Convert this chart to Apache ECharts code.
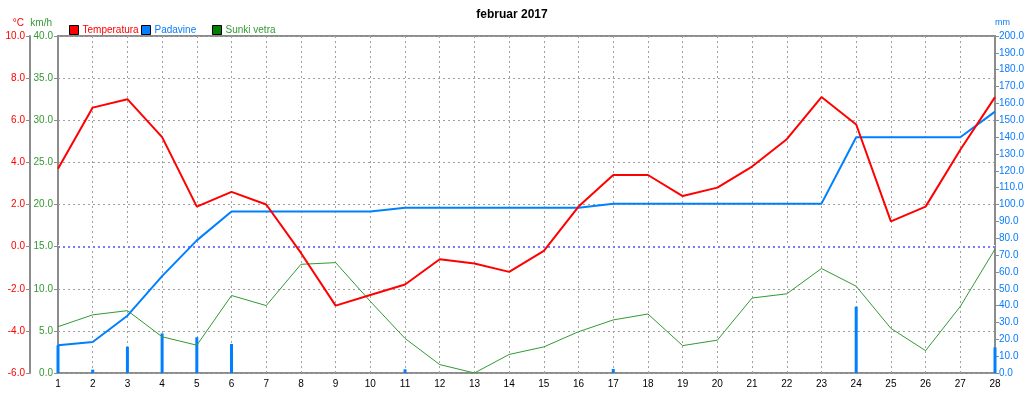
<!DOCTYPE html>
<html>
<head>
<meta charset="utf-8">
<script src="https://cdn.jsdelivr.net/npm/echarts@6/dist/echarts.min.js"></script>
<style>
html,body{margin:0;padding:0;background:#fff;}
#c{width:1024px;height:402px;}
</style>
</head>
<body>
<div id="c"></div>
<script>
var days = ['1','2','3','4','5','6','7','8','9','10','11','12','13','14','15','16','17','18','19','20','21','22','23','24','25','26','27','28'];
var temperatura = [3.7, 6.6, 7.0, 5.2, 1.9, 2.6, 2.0, -0.3, -2.8, -2.3, -1.8, -0.6, -0.8, -1.2, -0.2, 1.9, 3.4, 3.4, 2.4, 2.8, 3.8, 5.1, 7.1, 5.8, 1.2, 1.9, 4.6, 7.1];
var sunkiVetra = [5.5, 6.9, 7.4, 4.3, 3.3, 9.2, 8.0, 12.9, 13.1, 8.5, 4.1, 1.0, 0.0, 2.2, 3.1, 4.9, 6.3, 7.0, 3.25, 3.9, 8.9, 9.4, 12.4, 10.3, 5.3, 2.65, 7.9, 14.7];
var padavineDnevne = [16.4, 2.0, 15.6, 23.5, 21.2, 17.2, 0, 0, 0, 0, 2.2, 0, 0, 0, 0, 0, 2.4, 0, 0, 0, 0, 0, 0, 39.4, 0, 0, 0, 15.2];
var padavineSkupaj = [16.4, 18.4, 34.0, 57.5, 78.7, 95.9, 95.9, 95.9, 95.9, 95.9, 98.1, 98.1, 98.1, 98.1, 98.1, 98.1, 100.5, 100.5, 100.5, 100.5, 100.5, 100.5, 100.5, 139.9, 139.9, 139.9, 139.9, 155.1];
var titleText = 'februar 2017';

var FONT = 'Liberation Sans';
var RED = '#ff0000', BLUE = '#0a7cff', GREEN = '#339933', GRAY = '#8c8c8c';
function f1(v){ return v.toFixed(1); }

var chart = echarts.init(document.getElementById('c'), null, {renderer:'canvas'});
function legendAt(x, name, fill, txt){
  return {
    left: x, top: 20, itemWidth: 9, itemHeight: 9, icon: 'rect',
    selectedMode: false,
    textStyle: {fontFamily: FONT, fontSize: 10, color: txt, padding: [0,0,0,-1]},
    data: [{name: name, itemStyle: {color: fill, borderColor: '#000', borderWidth: 1}}]
  };
}
chart.setOption({
  animation: false,
  backgroundColor: '#fff',
  title: {text: titleText, left: 'center', top: 4,
    textStyle: {fontFamily: FONT, fontSize: 12, fontWeight: 'bold', color: '#000'}},
  legend: [
    legendAt(64, 'Temperatura', '#ff0000', RED),
    legendAt(136, 'Padavine', '#0080ff', BLUE),
    legendAt(207, 'Sunki vetra', '#008000', GREEN)
  ],
  grid: {left: 58, right: 29, top: 36, bottom: 29, show: true, borderColor: GRAY, borderWidth: 2,
    backgroundColor: 'transparent', containLabel: false, outerBoundsMode: 'none'},
  xAxis: {
    type: 'category', data: days, boundaryGap: false,
    axisLine: {lineStyle: {color: GRAY, width: 2}},
    axisTick: {show: false},
    axisLabel: {fontFamily: FONT, fontSize: 10, color: '#000', margin: 6, interval: 0},
    splitLine: {show: true, lineStyle: {color: '#a0a0a0', type: [2,3], width: 1}}
  },
  yAxis: [
    {type: 'value', min: -6, max: 10, interval: 2, position: 'left', offset: 28,
     name: '°C', nameLocation: 'end', nameGap: 8,
     nameTextStyle: {fontFamily: FONT, fontSize: 10, color: RED, align: 'right', padding: [0, 6, 0, 0]},
     axisLine: {show: true, lineStyle: {color: GRAY, width: 2}},
     axisTick: {show: true, length: 4, lineStyle: {color: GRAY}},
     axisLabel: {fontFamily: FONT, fontSize: 10, color: RED, margin: 5, formatter: f1},
     splitLine: {show: false}},
    {type: 'value', min: 0, max: 40, interval: 5, position: 'left', offset: 0,
     name: 'km/h', nameLocation: 'end', nameGap: 8,
     nameTextStyle: {fontFamily: FONT, fontSize: 10, color: GREEN, align: 'right', padding: [0, 6, 0, 0]},
     axisLine: {show: true, lineStyle: {color: GRAY, width: 2}},
     axisTick: {show: true, length: 4, lineStyle: {color: GRAY}},
     axisLabel: {fontFamily: FONT, fontSize: 10, color: GREEN, margin: 5, formatter: f1},
     splitLine: {show: true, lineStyle: {color: '#a0a0a0', type: [2,3], width: 1}}},
    {type: 'value', min: 0, max: 200, interval: 10, position: 'right',
     name: 'mm', nameLocation: 'end', nameGap: 9,
     nameTextStyle: {fontFamily: FONT, fontSize: 9, color: BLUE, align: 'left', padding: [0, 0, 0, 0]},
     axisLine: {show: true, lineStyle: {color: GRAY, width: 2}},
     axisTick: {show: true, length: 4, lineStyle: {color: GRAY}},
     axisLabel: {fontFamily: FONT, fontSize: 10, color: BLUE, margin: 4, formatter: f1},
     splitLine: {show: false}}
  ],
  series: [
    {name: 'Padavine', type: 'bar', yAxisIndex: 2, data: padavineDnevne, barWidth: 3,
     itemStyle: {color: '#0080ff'}, z: 2,
     markLine: {silent: true, z: 1, symbol: 'none', label: {show: false}, emphasis: {disabled: true},
       lineStyle: {color: '#ffffff', type: 'solid', width: 3},
       data: [{yAxis: 75}]}},
    {name: 'Sunki vetra', type: 'line', yAxisIndex: 1, data: sunkiVetra, showSymbol: false, symbol: 'none',
     lineStyle: {color: GREEN, width: 1}, itemStyle: {color: '#008000'}, z: 3},
    {name: 'Padavine', type: 'line', yAxisIndex: 2, data: padavineSkupaj, showSymbol: false, symbol: 'none',
     lineStyle: {color: '#0080ff', width: 2}, itemStyle: {color: '#0080ff'}, z: 4},
    {name: 'Temperatura', type: 'line', yAxisIndex: 0, data: temperatura, showSymbol: false, symbol: 'none',
     lineStyle: {color: RED, width: 2}, itemStyle: {color: RED}, z: 5,
     markLine: {silent: true, z: 2, symbol: 'none', label: {show: false}, emphasis: {disabled: true},
       lineStyle: {color: '#7a7aff', type: [2, 3], width: 2},
       data: [{yAxis: 0}]}}
  ]
});
</script>
</body>
</html>
